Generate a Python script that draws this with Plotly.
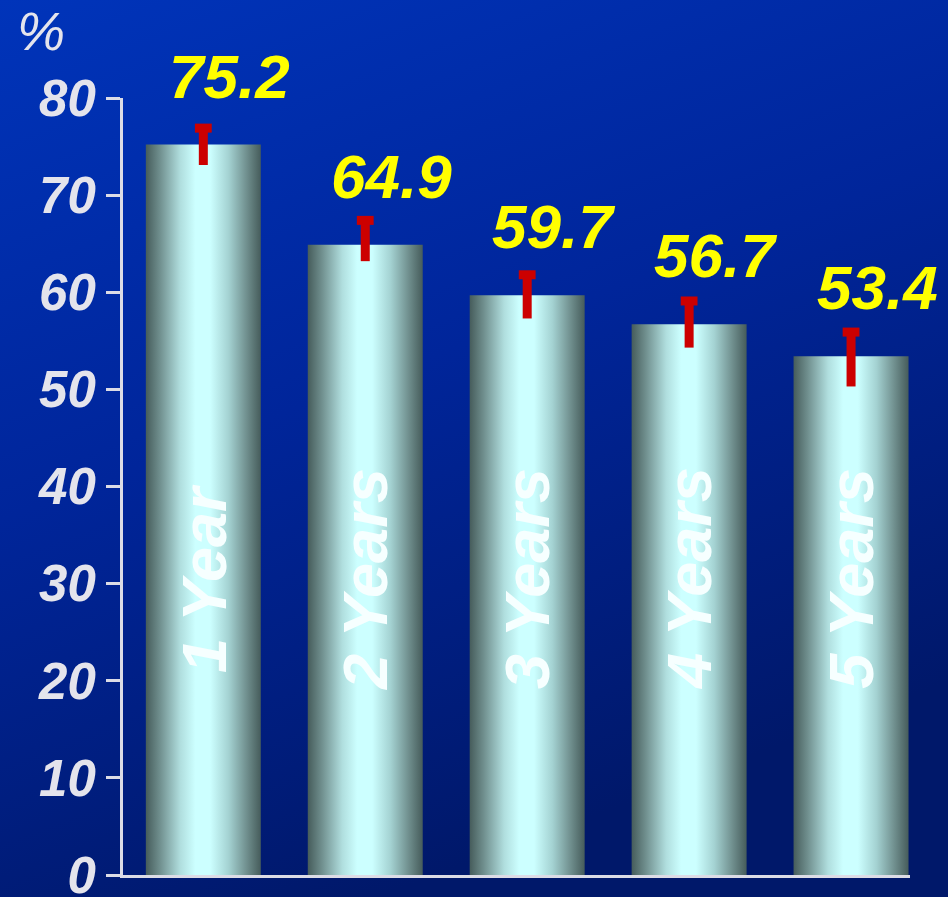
import base64
import plotly.graph_objects as go

# ---- data ----
categories = ["1 Year", "2 Years", "3 Years", "4 Years", "5 Years"]
values = [75.2, 64.9, 59.7, 56.7, 53.4]
value_labels = ["75.2", "64.9", "59.7", "56.7", "53.4"]
ci_upper = [76.9, 67.4, 61.8, 59.1, 55.9]
ci_lower = [73.1, 63.2, 57.3, 54.3, 50.3]
y_ticks = [0, 10, 20, 30, 40, 50, 60, 70, 80]
y_unit = "%"

# ---- layout constants ----
W, H = 948, 897
ML, MR, MT, MB = 123, 38, 98, 22
PW, PH = W - ML - MR, H - MT - MB
BAR_HALF = 0.355
AXIS_COL = "#dcdce6"
FONT = "Liberation Sans, Arial, sans-serif"

bar_scale = [
    [0.0, "#465c5b"], [0.12, "#6f8e8d"], [0.3, "#b0dede"], [0.43, "#ccffff"],
    [0.56, "#ccffff"], [0.72, "#a4d2d2"], [0.88, "#6f8e8d"], [1.0, "#465c5b"],
]

fig = go.Figure()

idx = list(range(len(categories)))
for i, (cat, v) in enumerate(zip(categories, values)):
    fig.add_trace(go.Scatter(
        x=[i - BAR_HALF, i + BAR_HALF, i + BAR_HALF, i - BAR_HALF, i - BAR_HALF],
        y=[0, 0, v, v, 0],
        mode="lines", line=dict(width=0, color="rgba(0,0,0,0)"),
        fill="toself",
        fillgradient=dict(type="horizontal", colorscale=bar_scale),
        name=cat, showlegend=False, hoverinfo="skip",
    ))

# error bars: stem + top cap
fig.add_trace(go.Scatter(
    x=idx, y=ci_upper, mode="markers",
    marker=dict(symbol="line-ew", size=12, color="#cc0000",
                line=dict(width=9, color="#cc0000")),
    error_y=dict(type="data", symmetric=False,
                 array=[0] * len(values),
                 arrayminus=[u - l for u, l in zip(ci_upper, ci_lower)],
                 width=0, thickness=9, color="#cc0000"),
    showlegend=False, hoverinfo="skip",
))

annotations = []
for i, (v, lab, cat) in enumerate(zip(values, value_labels, categories)):
    annotations.append(dict(
        x=i, y=v, xref="x", yref="y", text=lab, showarrow=False,
        xanchor="center", yanchor="bottom", xshift=26, yshift=32,
        font=dict(family=FONT, size=62, color="#ffff00", weight="bold", style="italic"),
    ))
    annotations.append(dict(
        x=i, y=30.5, xref="x", yref="y", text=cat, showarrow=False,
        textangle=-90, xanchor="center", yanchor="middle",
        font=dict(family=FONT, size=63, color="#f6ffff", weight="bold", style="italic"),
    ))
annotations.append(dict(
    x=(15 - ML) / PW, y=(H - MB + 1) / PH, xref="paper", yref="paper",
    text=y_unit, showarrow=False, xanchor="left", yanchor="top",
    font=dict(family=FONT, size=54, color="#e4e4ec", style="italic"),
))

svg = (
    f'<svg xmlns="http://www.w3.org/2000/svg" width="{W}" height="{H}" '
    f'viewBox="0 0 {W} {H}" preserveAspectRatio="none">'
    '<defs><linearGradient id="g" x1="0" y1="0" x2="0.4" y2="1">'
    '<stop offset="0" stop-color="#0034ba"/>'
    '<stop offset="0.5" stop-color="#00259a"/>'
    '<stop offset="1" stop-color="#00186a"/>'
    '</linearGradient></defs>'
    f'<rect width="{W}" height="{H}" fill="url(#g)"/></svg>'
)
bg_uri = "data:image/svg+xml;base64," + base64.b64encode(svg.encode()).decode()

fig.update_layout(
    width=W, height=H,
    margin=dict(l=ML, r=MR, t=MT, b=MB, pad=0, autoexpand=False),
    paper_bgcolor="#001c70", plot_bgcolor="rgba(0,0,0,0)",
    showlegend=False,
    images=[dict(source=bg_uri, xref="paper", yref="paper",
                 x=-ML / PW, y=1 + MT / PH, sizex=W / PW, sizey=H / PH,
                 xanchor="left", yanchor="top", sizing="stretch", layer="below")],
    annotations=annotations,
    xaxis=dict(range=[-0.496, 4.364], showgrid=False, zeroline=False,
               showticklabels=False, ticks="", showline=True, automargin=False,
               linecolor=AXIS_COL, linewidth=3, fixedrange=True),
    yaxis=dict(range=[0, 80], tickvals=y_ticks, showgrid=False, zeroline=False,
               ticks="outside", ticklen=14, tickwidth=3, tickcolor=AXIS_COL,
               showline=True, linecolor=AXIS_COL, linewidth=3,
               ticklabeloverflow="allow", automargin=False,
               tickfont=dict(family=FONT, size=51, color="#e4e4ec",
                             weight="bold", style="italic"),
               fixedrange=True),
)

fig.write_html("out.html")
